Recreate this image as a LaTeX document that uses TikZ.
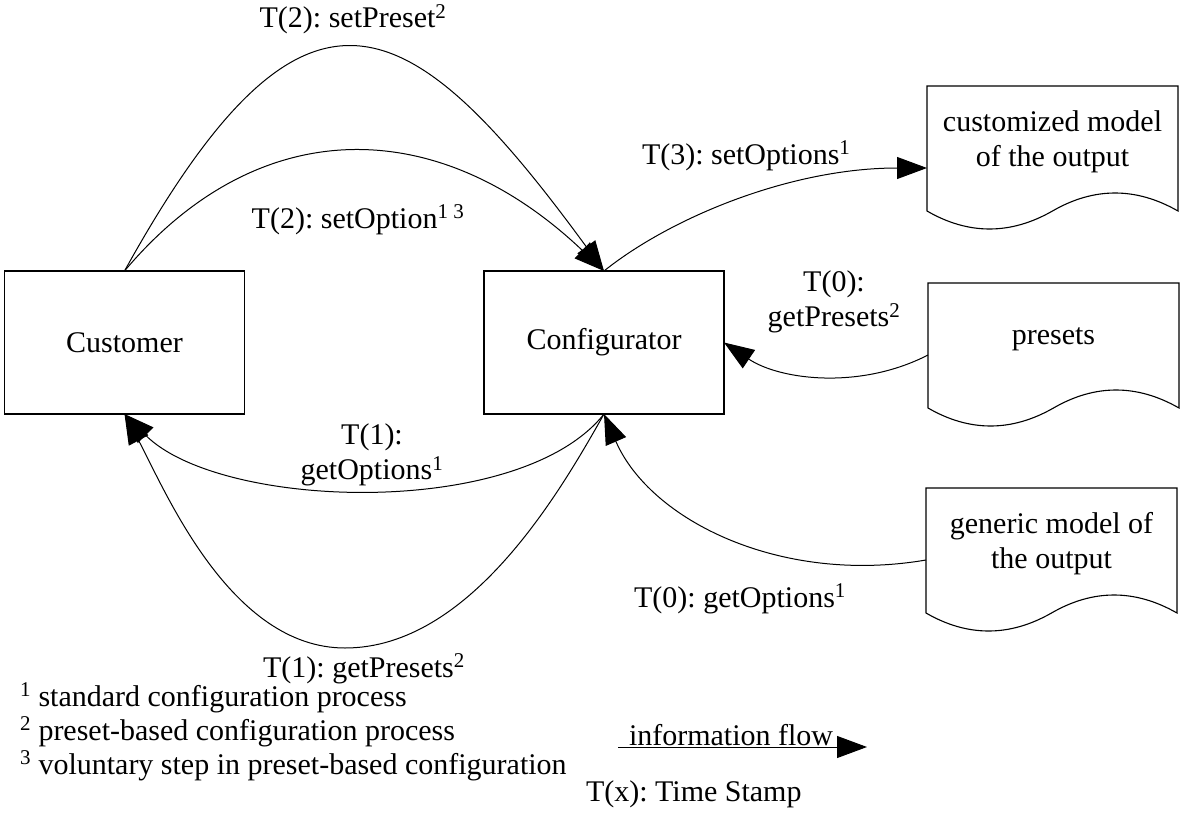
\documentclass[tikz,border=0pt]{standalone}
\usepackage{fontspec}
\setmainfont{Liberation Serif}
\usetikzlibrary{arrows.meta,calc}
\frenchspacing
\newcommand\docoutline[1]{%
  \draw[boxline] (#1.north west) -- (#1.north east) -- ([yshift=-13pt]#1.south east)
   .. controls ([shift={(-42pt,11pt)}]#1.south east) and ([shift={(-84pt,11pt)}]#1.south east) .. ([yshift=-13pt]#1.south)
   .. controls ([shift={(-42pt,-37pt)}]#1.south) and ([shift={(-84pt,-37pt)}]#1.south) .. ([yshift=-13pt]#1.south west) -- cycle;}
\begin{document}
\begin{tikzpicture}[x=1pt,y=-1pt,
  every node/.style={font=\fontsize{30pt}{35pt}\selectfont, inner sep=0pt, outer sep=0pt},
  boxline/.style={line width=1.1pt, black},
  actor/.style={draw, line width=1.1pt, minimum width=240pt, minimum height=143pt},
  docnode/.style={minimum width=251pt, minimum height=112pt, anchor=north west, align=center},
  flow/.style={line width=1pt, -{Triangle[length=30pt,width=22pt]}},
  lbl/.style={align=center}]
\useasboundingbox (0,0) rectangle (1181,816);

% main boxes
\node[actor] (cust) at (124.5,342.5) {Customer};
\node[actor] (conf) at (604,342.5) {Configurator};

% documents
\node[docnode] (cmod) at (927,86) {customized model\\of the output};
\node[docnode] (pres) at (928,283) {presets};
\node[docnode] (gmod) at (926,488) {generic model of\\the output};
\docoutline{cmod}
\docoutline{pres}
\docoutline{gmod}

% connectors
\draw[flow] (cust.north) .. controls (303,-51) and (406,0) .. (conf.north);
\draw[flow] (cust.north) .. controls (260,110) and (440,115) .. (conf.north);
\draw[flow] (conf.north) .. controls (670,218) and (790,168) .. ([yshift=-26pt]cmod.west);
\draw[flow] ([yshift=-16pt]pres.west) .. controls (860,390) and (780,380) .. (conf.east);
\draw[flow] (conf.south) .. controls (520,520) and (220,510) .. (cust.south);
\draw[flow] (conf.south) .. controls (560,492) and (470,648) .. (345,648)
                          .. controls (230,648) and (165,490) .. (cust.south);
\draw[flow] ([yshift=-16pt]gmod.west) .. controls (780,585) and (650,520) .. (conf.south);

% connector labels
\node[anchor=base] (l1) at (353,28) {T(2): setPreset\textsuperscript{2}};
\node[anchor=base] (l2) at (358,228) {T(2): setOption\textsuperscript{1 3}};
\node[anchor=base west] (l3) at (642,164) {T(3): setOptions\textsuperscript{1}};
\node[lbl] (l4) at (834,302) {T(0):\\getPresets\textsuperscript{2}};
\node[lbl] (l5) at (372,455) {T(1):\\getOptions\textsuperscript{1}};
\node[anchor=base] (l6) at (364,677) {T(1): getPresets\textsuperscript{2}};
\node[anchor=base] (l7) at (740,607) {T(0): getOptions\textsuperscript{1}};

% legend
\node[anchor=base west] (f1) at (20,706) {\textsuperscript{1} standard configuration process};
\node[anchor=base west] (f2) at (20,740) {\textsuperscript{2} preset-based configuration process};
\node[anchor=base west] (f3) at (20,774) {\textsuperscript{3} voluntary step in preset-based configuration};
\coordinate (fs) at (618,747);
\coordinate (fe) at (867,747);
\draw[flow] (fs) -- (fe);
\node[anchor=base west] (fl) at (629,745) {information flow};
\node[anchor=base west] (ts) at (586,801) {T(x): Time Stamp};
\end{tikzpicture}
\end{document}
